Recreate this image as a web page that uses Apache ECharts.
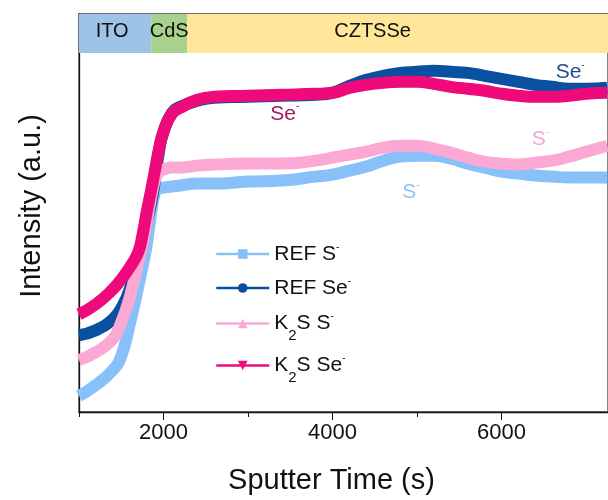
<!DOCTYPE html>
<html>
<head>
<meta charset="utf-8">
<title>SIMS depth profile</title>
<script type="text/javascript" src="https://cdn.jsdelivr.net/npm/echarts@6/dist/echarts.min.js"></script>
<style>
html, body { margin: 0; padding: 0; background: #fff; }
</style>
</head>
<body>

<div id="main" style="width: 608px;height:500px;"></div>

<script type="text/javascript">

// sputter time (s)
let TIME = [1000, 1200, 1400, 1500, 1600, 1700, 1750, 1800, 1850, 1900, 1950, 2000,
	2100, 2200, 2400, 2600, 3000, 3400, 3800, 4000, 4200, 4400, 4600, 4800,
	5000, 5200, 5400, 5600, 5800, 6000, 6200, 6400, 6600, 6800, 7000, 7250];

// intensities (a.u.)
let REF_S = [16, 27, 42, 56, 88, 125, 145, 167, 197, 220, 224, 225,
	226, 227, 229, 229, 231, 232, 236, 238, 242, 246, 252, 256,
	257, 257, 254, 249, 245, 241, 239, 237, 236, 235, 235, 235];
let REF_SE = [77, 82, 93, 104, 123, 156, 173, 191, 208, 233, 263, 281,
	300, 306, 312, 315, 316, 317, 318, 320, 327, 333, 337, 340,
	341, 342, 341, 340, 337, 334, 331, 328, 326, 324, 324, 325];
let K2S_S = [52, 60, 73, 90, 115, 150, 168, 190, 213, 233, 241, 243,
	245, 245, 247, 248, 249, 249, 252, 255, 258, 261, 265, 267,
	267, 264, 260, 255, 251, 249, 248, 250, 252, 256, 261, 267];
let K2S_SE = [98, 108, 123, 133, 145, 160, 177, 200, 221, 243, 265, 281,
	299, 305, 313, 316, 317, 318, 319, 320, 325, 328, 330, 331,
	331, 329, 326, 324, 322, 319, 317, 316, 316, 317, 319, 320];

let SERIES_NAMES = ['REF S-', 'REF Se-', 'K2S S-', 'K2S Se-'];
let LEGEND_TEXT = ['{t|REF S}{sup|-}', '{t|REF Se}{sup|-}', '{t|K}{sub|2}{t|S S}{sup|-}', '{t|K}{sub|2}{t|S Se}{sup|-}'];

// layer bands across the top
let LAYERS = ['ITO', 'CdS', 'CZTSSe'];
let LAYER_EDGES = [1000, 1855, 2280, 7260];

let MAJOR_TICKS = [2000, 4000, 6000];
let MINOR_TICKS = [1000, 3000, 5000];

let X_MIN = 1000, X_MAX = 7260;
let Y_MIN = 0, Y_MAX = 399;
let BAND_LOW = 360;

// peak labels: [time, intensity, text]
let NOTE_K2S_SE = [3435, 299, 'Se'];
let NOTE_REF_SE = [6812, 341, 'Se'];
let NOTE_K2S_S = [6459, 273, 'S'];
let NOTE_REF_S = [4929, 220, 'S'];

const FONT = '"Liberation Sans", Arial, sans-serif';
const COLORS = ['#88C0FA', '#0A50A0', '#FBA9D4', '#EE0A7B'];
const SYMBOLS = ['rect', 'circle', 'triangle', 'path://M0,0 L10,0 L5,9 Z'];
const NOTE_COLORS = ['#8DC3F5', '#1D4F8D', '#F7A3D0', '#A01A5C'];

function richFor(color){
	return {
		t: { fontSize: 21, fontFamily: FONT, color: color, lineHeight: 24 },
		sub: { fontSize: 15, fontFamily: FONT, color: color, lineHeight: 14, padding: [24, 0, 0, 0] },
		sup: { fontSize: 10, fontFamily: FONT, color: color, lineHeight: 10, padding: [0, 0, 14, 0] }
	};
}

function pairs(values){
	return TIME.map((t, i) => [t, values[i]]);
}

function note(n, color){
	return {
		symbol: 'circle',
		symbolSize: 0,
		silent: true,
		data: [{
			coord: [n[0], n[1]],
			label: {
				show: true,
				position: 'inside',
				formatter: '{t|' + n[2] + '}{sup|-}',
				rich: richFor(color)
			}
		}]
	};
}

let bandColors = ['#9DC3E6', '#A9D18E', '#FFE699'];
let bandOffsets = [[-3, -2], [0, -2], [-25, -2]];
let bands = LAYERS.map((name, i) => [
	{
		name: name,
		xAxis: LAYER_EDGES[i],
		yAxis: BAND_LOW,
		itemStyle: { color: bandColors[i], opacity: 1 },
		label: { offset: bandOffsets[i] }
	},
	{ xAxis: LAYER_EDGES[i + 1], yAxis: Y_MAX }
]);

let seriesValues = [REF_S, REF_SE, K2S_S, K2S_SE];
let notes = [NOTE_REF_S, NOTE_REF_SE, NOTE_K2S_S, NOTE_K2S_SE];

let series = SERIES_NAMES.map((name, i) => ({
	name: name,
	type: 'line',
	data: pairs(seriesValues[i]),
	smooth: 0.5,
	showSymbol: false,
	symbol: SYMBOLS[i],
	color: COLORS[i],
	lineStyle: { width: 12, color: COLORS[i], cap: 'butt' },
	z: 2 + i,
	animation: false,
	markPoint: note(notes[i], NOTE_COLORS[i])
}));

series[0].markArea = {
	silent: true,
	z: 1,
	label: {
		show: true,
		position: 'inside',
		color: '#111',
		fontSize: 20,
		fontFamily: FONT
	},
	data: bands
};

let legendTops = [237, 271, 299, 341];
let legends = SERIES_NAMES.map((name, i) => ({
	data: [name],
	left: 210,
	top: legendTops[i],
	itemWidth: 53,
	itemHeight: 12,
	lineStyle: { width: 2.5 },
	selectedMode: false,
	formatter: () => LEGEND_TEXT[i],
	textStyle: { rich: richFor('#111') }
}));

var option = {
	animation: false,
	backgroundColor: '#fff',
	grid: {
		left: 79, right: -3, top: 14, bottom: 87,
		show: true,
		borderColor: '#444',
		borderWidth: 1.3
	},
	legend: legends,
	xAxis: [{
		type: 'value',
		min: X_MIN,
		max: X_MAX,
		name: 'Sputter Time (s)',
		nameLocation: 'middle',
		nameGap: 54,
		nameTextStyle: { fontSize: 29, fontFamily: FONT, color: '#111', padding: [0, 24, 0, 0] },
		axisLine: { show: true, lineStyle: { color: '#111', width: 1.3 } },
		axisTick: { show: true, customValues: MAJOR_TICKS, length: 8, lineStyle: { color: '#111' } },
		axisLabel: {
			customValues: MAJOR_TICKS,
			formatter: (v) => String(v),
			fontSize: 22, fontFamily: FONT, color: '#111', margin: 10
		},
		splitLine: { show: false }
	}, {
		type: 'value',
		position: 'bottom',
		min: X_MIN,
		max: X_MAX,
		axisLine: { show: false },
		axisTick: { show: true, customValues: MINOR_TICKS, length: 5, lineStyle: { color: '#111' } },
		axisLabel: { show: false },
		splitLine: { show: false }
	}],
	yAxis: {
		type: 'value',
		min: Y_MIN,
		max: Y_MAX,
		name: 'Intensity (a.u.)',
		nameLocation: 'middle',
		nameGap: 33,
		nameTextStyle: { fontSize: 29, fontFamily: FONT, color: '#111', padding: [0, 0, 0, 14] },
		axisLine: { show: true, lineStyle: { color: '#111', width: 1.3 } },
		axisTick: { show: false },
		axisLabel: { show: false },
		splitLine: { show: false }
	},
	series: series
};

var myChart = echarts.init(document.getElementById('main'));
myChart.setOption(option);

</script>

</body>
</html>
